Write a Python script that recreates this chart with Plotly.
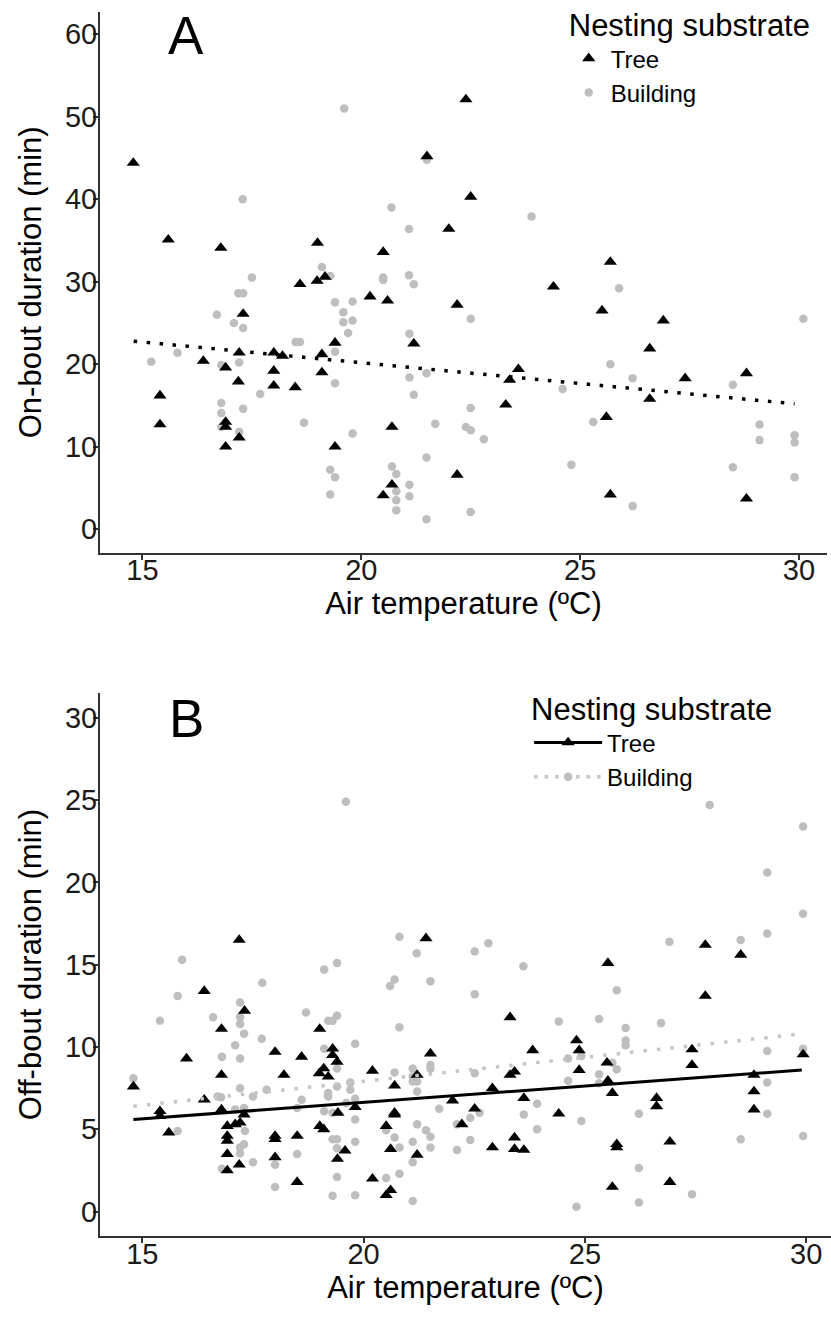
import plotly.graph_objects as go

# ---------------- Panel A: On-bout duration ----------------
tree_a_x = [14.79, 15.59, 16.79, 19.0, 19.17, 18.6, 18.99, 22.39, 21.5, 22.5, 22.0, 20.5, 25.69,
            17.3, 19.4, 16.39, 17.21, 18.0, 18.2, 19.1, 16.9, 18.0, 19.1, 17.19, 18.0, 18.49,
            15.4, 16.9, 16.9, 15.4, 17.21, 16.9, 19.4, 20.2, 20.6, 22.19, 21.2, 23.59, 23.39,
            23.3, 20.7, 22.19, 20.7, 20.5, 24.39, 25.5, 26.9, 26.59, 27.4, 28.8, 26.59, 25.6,
            25.69, 28.8]
tree_a_y = [44.4, 35.1, 34.1, 34.7, 30.6, 29.7, 30.1, 52.1, 45.2, 40.3, 36.4, 33.6, 32.4,
            26.1, 22.6, 20.4, 21.4, 21.4, 21.0, 21.2, 19.6, 19.2, 19.0, 17.9, 17.4, 17.2,
            16.2, 13.0, 12.4, 12.7, 11.1, 10.0, 10.0, 28.2, 27.7, 27.2, 22.5, 19.4, 18.1,
            15.1, 12.4, 6.6, 5.4, 4.1, 29.4, 26.5, 25.3, 21.9, 18.3, 18.9, 15.8, 13.6,
            4.2, 3.7]

bldg_a_x = [17.29, 19.1, 19.29, 17.5, 19.61, 21.5, 20.69, 21.09, 23.89, 21.09, 20.5, 17.19, 17.3,
            16.7, 17.09, 17.3, 19.4, 19.59, 19.59, 18.5, 18.6, 15.2, 15.8, 17.21, 19.4, 16.8,
            19.4, 17.69, 16.8, 17.3, 16.8, 16.8, 18.69, 17.21, 19.29, 19.4, 19.29, 20.5, 21.2,
            19.8, 19.8, 19.7, 22.5, 21.1, 21.1, 21.49, 21.2, 24.6, 22.5, 21.69, 22.39, 22.5,
            22.8, 19.8, 21.49, 24.8, 20.7, 20.8, 20.8, 21.1, 21.1, 20.8, 20.8, 21.49, 22.5,
            25.89, 25.69, 26.2, 28.49, 30.1, 25.3, 29.1, 29.1, 29.9, 29.9, 28.49, 29.9, 26.2]
bldg_a_y = [40.0, 31.8, 30.7, 30.5, 51.0, 44.8, 39.0, 36.4, 37.9, 30.8, 30.5, 28.6, 28.6,
            26.0, 25.0, 24.4, 27.5, 26.3, 25.1, 22.7, 22.7, 20.3, 21.4, 20.2, 21.5, 19.9,
            17.7, 16.4, 15.3, 14.6, 14.1, 12.4, 12.9, 11.8, 7.2, 6.3, 4.2, 30.2, 29.7,
            27.6, 25.3, 23.8, 25.5, 23.7, 18.4, 18.9, 16.3, 17.0, 14.7, 12.8, 12.4, 12.0,
            10.9, 11.6, 8.7, 7.8, 7.6, 6.7, 4.6, 5.4, 4.0, 3.5, 2.3, 1.2, 2.1,
            29.2, 20.0, 18.3, 17.5, 25.5, 13.0, 12.7, 10.8, 11.4, 10.5, 7.5, 6.3, 2.8]

fit_a_x = [14.8, 29.9]
fit_a_y = [22.8, 15.2]

# ---------------- Panel B: Off-bout duration ----------------
tree_b_x = [17.19, 21.41, 27.72, 28.52, 25.52, 16.4, 17.31, 16.79, 19.01, 18.0, 18.6, 16.0,
            19.3, 19.3, 19.4, 19.1, 19.0, 19.2, 16.79, 18.2, 14.8, 16.4, 16.79, 15.4, 15.4,
            17.3, 19.42, 17.21, 17.1, 16.92, 19.01, 19.1, 15.6, 16.92, 16.92, 18.0, 18.0,
            18.5, 16.92, 18.0, 19.58, 19.41, 16.92, 17.19, 18.5, 23.31, 24.81, 23.82, 21.51,
            20.2, 21.21, 23.31, 23.41, 24.87, 24.87, 20.7, 22.91, 22.01, 23.62, 19.81, 22.51,
            20.7, 20.7, 24.41, 20.51, 22.22, 23.41, 20.61, 22.91, 23.41, 23.62, 21.21, 20.2,
            20.61, 20.51, 27.72, 27.42, 29.93, 27.42, 25.5, 28.82, 25.52, 25.62, 28.82, 26.62,
            26.62, 28.82, 26.92, 25.72, 25.72, 25.62, 26.92]
tree_b_y = [16.5, 16.6, 16.2, 15.6, 15.1, 13.4, 12.2, 11.1, 11.1, 9.7, 9.4, 9.3,
            9.9, 9.5, 9.1, 8.7, 8.4, 8.2, 8.3, 8.3, 7.6, 6.8, 6.2, 6.1, 5.8,
            5.9, 6.0, 5.4, 5.3, 5.2, 5.2, 5.0, 4.8, 4.6, 4.3, 4.6, 4.4,
            4.6, 3.5, 3.3, 3.7, 3.2, 2.5, 2.85, 1.8, 11.8, 10.4, 9.8, 9.6,
            8.55, 8.3, 8.3, 8.5, 9.8, 8.6, 7.65, 7.5, 6.75, 6.9, 6.35, 6.25,
            6.0, 5.9, 5.95, 5.2, 5.3, 4.5, 3.8, 3.9, 3.8, 3.75, 3.45, 2.0,
            1.3, 1.0, 13.1, 9.85, 9.55, 8.9, 9.05, 8.3, 7.95, 7.2, 7.3, 6.9,
            6.4, 6.2, 4.25, 4.1, 3.9, 1.5, 1.8]

bldg_b_x = [19.6, 15.9, 19.4, 19.11, 20.81, 21.2, 22.51, 22.82, 23.61, 27.82, 29.93, 29.12,
            29.93, 29.12, 28.52, 26.91, 17.71, 15.8, 17.21, 15.4, 16.6, 17.21, 17.21, 17.3,
            18.7, 19.2, 19.3, 19.4, 17.7, 17.1, 16.8, 17.21, 19.11, 19.4, 14.8, 17.21, 17.81,
            19.2, 19.2, 19.4, 17.5, 16.7, 16.78, 18.6, 17.1, 17.3, 18.5, 15.4, 19.11, 19.3,
            17.32, 15.8, 19.3, 19.4, 17.3, 17.21, 19.4, 17.21, 18.5, 18.0, 17.5, 16.8, 19.4,
            18.0, 19.3, 20.7, 20.6, 21.51, 22.51, 24.41, 20.81, 19.81, 21.51, 21.51, 20.7,
            21.11, 21.11, 21.21, 21.11, 22.51, 24.62, 24.62, 19.7, 19.7, 21.21, 23.92, 19.81,
            19.61, 21.71, 22.62, 22.41, 19.81, 23.62, 20.51, 21.21, 22.11, 21.41, 21.51, 23.92,
            20.7, 22.41, 19.81, 21.11, 20.81, 21.51, 22.11, 21.11, 20.81, 20.51, 19.81, 21.11,
            24.81, 25.72, 25.32, 26.72, 25.92, 25.92, 25.92, 24.92, 29.12, 29.93, 25.62, 25.72,
            25.32, 25.32, 29.12, 26.22, 29.12, 24.92, 29.93, 28.52, 26.22, 27.42, 26.22]
bldg_b_y = [24.9, 15.3, 15.1, 14.7, 16.7, 15.7, 15.8, 16.3, 14.9, 24.7, 23.4, 20.6,
            18.1, 16.9, 16.5, 16.4, 13.9, 13.1, 12.7, 11.6, 11.8, 11.8, 11.4, 10.8,
            12.1, 11.6, 11.6, 11.9, 10.5, 10.1, 9.4, 9.3, 9.9, 8.7, 8.1, 7.5, 7.4,
            7.2, 7.0, 7.6, 7.0, 7.0, 6.95, 6.8, 6.2, 6.3, 6.3, 5.9, 6.1, 6.0,
            4.9, 4.9, 4.4, 4.4, 4.1, 3.9, 3.85, 3.55, 3.5, 2.85, 3.0, 2.6, 2.1,
            1.5, 0.97, 14.1, 13.7, 14.0, 13.2, 11.55, 11.2, 10.2, 8.9, 8.7, 8.45,
            8.7, 8.2, 7.9, 7.9, 8.4, 9.3, 7.95, 7.85, 7.4, 7.3, 6.55, 6.85,
            6.6, 6.25, 6.0, 5.7, 5.6, 5.9, 4.95, 5.3, 5.3, 4.95, 4.55, 5.0,
            4.5, 4.35, 4.25, 4.25, 3.9, 3.9, 3.75, 3.0, 2.3, 2.05, 1.0, 0.65,
            0.3, 13.45, 11.7, 11.45, 11.15, 10.4, 10.1, 9.45, 9.75, 9.9, 9.05, 8.65,
            8.35, 7.8, 7.85, 5.95, 5.95, 5.5, 4.6, 4.4, 2.65, 1.05, 0.55]

fit_b_tree_x = [14.8, 29.9]
fit_b_tree_y = [5.6, 8.6]
fit_b_bldg_x = [14.8, 29.9]
fit_b_bldg_y = [6.4, 10.8]

x_ticks = [15, 20, 25, 30]
y_ticks_a = [0, 10, 20, 30, 40, 50, 60]
y_ticks_b = [0, 5, 10, 15, 20, 25, 30]

GREY = "#bebebe"
GREY_LINE = "#c6c6c6"
FONT = "Liberation Sans, Arial, sans-serif"
TRI = 11.5
CIR = 8.5

fig = go.Figure()

# Panel A
fig.add_trace(go.Scatter(x=bldg_a_x, y=bldg_a_y, mode="markers", xaxis="x", yaxis="y",
                         marker=dict(symbol="circle", size=CIR, color=GREY), showlegend=False))
fig.add_trace(go.Scatter(x=tree_a_x, y=tree_a_y, mode="markers", xaxis="x", yaxis="y",
                         marker=dict(symbol="triangle-up", size=TRI, color="black"), showlegend=False))
fig.add_trace(go.Scatter(x=fit_a_x, y=fit_a_y, mode="lines", xaxis="x", yaxis="y",
                         line=dict(color="black", width=3.5, dash="3.5px,9.5px"), showlegend=False))
# legend A entries
fig.add_trace(go.Scatter(x=[None], y=[None], mode="markers", name="Tree", legend="legend",
                         marker=dict(symbol="triangle-up", size=TRI, color="black")))
fig.add_trace(go.Scatter(x=[None], y=[None], mode="markers", name="Building", legend="legend",
                         marker=dict(symbol="circle", size=CIR, color=GREY)))

# Panel B
fig.add_trace(go.Scatter(x=bldg_b_x, y=bldg_b_y, mode="markers", xaxis="x2", yaxis="y2",
                         marker=dict(symbol="circle", size=CIR, color=GREY), showlegend=False))
fig.add_trace(go.Scatter(x=tree_b_x, y=tree_b_y, mode="markers", xaxis="x2", yaxis="y2",
                         marker=dict(symbol="triangle-up", size=TRI, color="black"), showlegend=False))
fig.add_trace(go.Scatter(x=fit_b_bldg_x, y=fit_b_bldg_y, mode="lines", xaxis="x2", yaxis="y2",
                         line=dict(color=GREY_LINE, width=3.5, dash="3.5px,10px"), showlegend=False))
fig.add_trace(go.Scatter(x=fit_b_tree_x, y=fit_b_tree_y, mode="lines", xaxis="x2", yaxis="y2",
                         line=dict(color="black", width=3), showlegend=False))
# legend B entries
fig.add_trace(go.Scatter(x=[None], y=[None], mode="lines+markers", name="Tree", legend="legend2",
                         xaxis="x2", yaxis="y2",
                         line=dict(color="black", width=3),
                         marker=dict(symbol="triangle-up", size=TRI, color="black")))
fig.add_trace(go.Scatter(x=[None], y=[None], mode="lines+markers", name="Building", legend="legend2",
                         xaxis="x2", yaxis="y2",
                         line=dict(color=GREY_LINE, width=3.5, dash="3.5px,7px"),
                         marker=dict(symbol="circle", size=CIR, color=GREY)))

axis_common = dict(showline=True, linecolor="#333333", linewidth=2, ticks="outside",
                   ticklen=5, tickwidth=2, tickcolor="#333333", showgrid=False, zeroline=False,
                   tickfont=dict(size=29, color="#1a1a1a", family=FONT))

xt = dict(text="Air temperature (ºC)", font=dict(size=31), standoff=0)

fig.update_layout(
    width=831, height=1317,
    margin=dict(l=100, r=0, t=12, b=81, autoexpand=False),
    plot_bgcolor="white", paper_bgcolor="white",
    font=dict(family=FONT, color="black"),
    xaxis=dict(domain=[0, 0.9945], range=[14.03, 30.64], anchor="y", tickvals=x_ticks,
               ticklabelstandoff=-14, title=xt, **axis_common),
    yaxis=dict(domain=[0.5583, 1.0], range=[-2.84, 62.7], anchor="x", tickvals=y_ticks_a,
               ticklabelstandoff=-10,
               title=dict(text="On-bout duration (min)", font=dict(size=31), standoff=14), **axis_common),
    xaxis2=dict(domain=[0, 1.0], range=[14.045, 30.56], anchor="y2", tickvals=x_ticks,
                ticklabelstandoff=-14, title=xt, **axis_common),
    yaxis2=dict(domain=[0, 0.4436], range=[-1.48, 31.5], anchor="x2", tickvals=y_ticks_b,
                ticklabelstandoff=-10,
                title=dict(text="Off-bout duration (min)", font=dict(size=31), standoff=14), **axis_common),
    legend=dict(title=dict(text="Nesting substrate", font=dict(size=31)),
                font=dict(size=24), x=0.6385, y=1.0131, xanchor="left", yanchor="top",
                bgcolor="rgba(0,0,0,0)", tracegroupgap=0, itemwidth=34),
    legend2=dict(title=dict(text="Nesting substrate", font=dict(size=31)),
                 font=dict(size=24), x=0.587, y=0.4542, xanchor="left", yanchor="top",
                 bgcolor="rgba(0,0,0,0)", tracegroupgap=0, itemwidth=68),
    annotations=[
        dict(text="A", x=15.99, y=59.8, xref="x", yref="y", showarrow=False,
             font=dict(size=53, color="black"), xanchor="center", yanchor="middle"),
        dict(text="B", x=16.01, y=29.95, xref="x2", yref="y2", showarrow=False,
             font=dict(size=53, color="black"), xanchor="center", yanchor="middle"),
    ],
)

fig.write_html("out.html")
